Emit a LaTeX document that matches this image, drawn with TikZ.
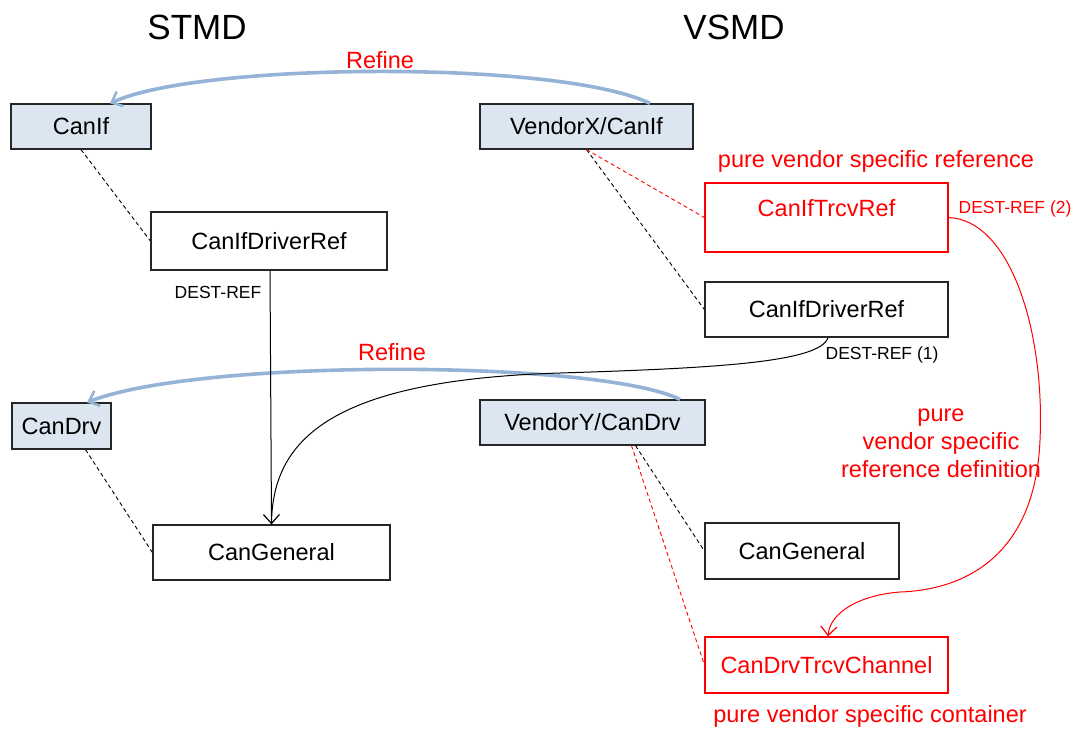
\documentclass[tikz,border=0pt]{standalone}
\usepackage{fontspec}
\setmainfont{Liberation Sans}
\usetikzlibrary{arrows.meta,calc}
\definecolor{boxfill}{HTML}{DCE6F1}
\definecolor{refblue}{HTML}{95B3D7}
\definecolor{vred}{HTML}{FF0000}
\begin{document}
\begin{tikzpicture}[x=1pt,y=-1pt,
  every node/.style={font=\fontsize{23.5}{28}\selectfont, inner sep=0pt},
  box/.style={draw=black!85, line width=1.2pt, minimum width=#1},
  mbox/.style={box=#1, fill=boxfill},
  rbox/.style={draw=vred, line width=1.2pt, text=vred, minimum width=#1},
  refine/.style={draw=refblue, line width=3.6pt, -{Straight Barb[length=9pt,width=16pt,line width=2.6pt]}},
  refl/.style={text=vred, font=\fontsize{23.5}{28}\selectfont},
  small/.style={font=\fontsize{17.5}{21}\selectfont},
  dsh/.style={dash pattern=on 4pt off 3pt, line width=0.9pt},
  blackarrow/.style={line width=1pt, -{Straight Barb[length=9pt,width=16pt,line width=1.2pt]}},
  redarrow/.style={draw=vred, line width=1pt, -{Straight Barb[length=9pt,width=16pt,line width=1.2pt]}}
]
\useasboundingbox (0,0) rectangle (1075,729);

% titles
\node[font=\fontsize{35}{42}\selectfont] (stmd) at (197,27) {STMD};
\node[font=\fontsize{35}{42}\selectfont] (vsmd) at (734,27) {VSMD};

% boxes
\node[mbox=140pt, minimum height=45pt] (canif) at (81,126.5) {CanIf};
\node[mbox=213pt, minimum height=45pt] (vx) at (586.5,126.5) {VendorX/CanIf};
\node[box=236pt, minimum height=58pt] (ldr) at (269,241) {CanIfDriverRef};
\node[rbox=243pt, minimum height=69pt, text height=17pt, text depth=19pt] (trcv) at (826.5,217.5) {CanIfTrcvRef};
\node[box=243pt, minimum height=55pt] (rdr) at (826.5,309.5) {CanIfDriverRef};
\node[mbox=99pt, minimum height=46pt] (candrv) at (61.5,426) {CanDrv};
\node[mbox=225pt, minimum height=45pt] (vy) at (592.5,422.5) {VendorY/CanDrv};
\node[box=237pt, minimum height=55pt] (lcg) at (271.5,552.5) {CanGeneral};
\node[box=194pt, minimum height=56pt] (rcg) at (802,551) {CanGeneral};
\node[rbox=243pt, minimum height=56pt] (tch) at (826.5,665) {CanDrvTrcvChannel};

% labels
\node[refl] (ref1) at (380,60) {Refine};
\node[refl] (ref2) at (392,352) {Refine};
\node[refl] (pvsr) at (876,161) {pure vendor specific reference};
\node[refl] (pvsc) at (870,716) {pure vendor specific container};
\node[refl, align=center, font=\fontsize{23.5}{28}\selectfont] (pvsrd) at (941,443) {pure\\vendor specific\\reference definition};
\node[small] (dr) at (218,292) {DEST-REF};
\node[small] (dr1) at (882,355) {DEST-REF (1)};
\node[small, text=vred] (dr2) at (1015,209) {DEST-REF (2)};

% refine arcs
\draw[refine] ([xshift=63.5pt]vx.north) .. controls (560,60) and (200,62) .. ([xshift=29pt]canif.north);
\draw[refine] ([xshift=87.5pt]vy.north) .. controls (600,360) and (200,358) .. ([xshift=25.5pt]candrv.north);

% dashed containment lines
\draw[dsh] (canif.south) -- (ldr.west);
\draw[dsh] (vx.south) -- (rdr.west);
\draw[dsh, draw=vred] (vx.south) -- (trcv.west);
\draw[dsh] ([xshift=24pt]candrv.south) -- (lcg.west);
\draw[dsh] ([xshift=43pt]vy.south) -- (rcg.west);
\draw[dsh, draw=vred] ([xshift=39pt]vy.south) -- (tch.west);

% references
\draw[blackarrow] ([xshift=1pt]ldr.south) -- (lcg.north);
\draw[line width=1pt] ([xshift=1.5pt]rdr.south) .. controls (820,362) and (720,368) .. (560,373) .. controls (330,380) and (272,440) .. (lcg.north);
\draw[redarrow] (trcv.east) .. controls (1010,220) and (1045,330) .. (1040,440) .. controls (1035,560) and (960,590) .. (900,592) .. controls (860,595) and (830,612) .. ([xshift=1.5pt]tch.north);
\end{tikzpicture}
\end{document}
